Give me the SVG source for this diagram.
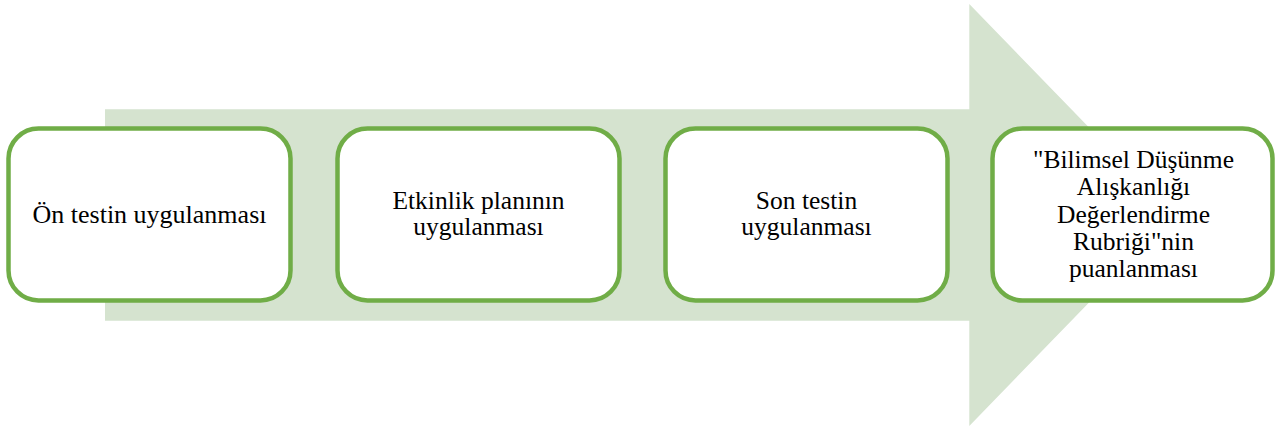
<svg xmlns="http://www.w3.org/2000/svg" width="1276" height="427" viewBox="0 0 1276 427">
<style>
.box{fill:#ffffff;stroke:#70AD47;stroke-width:4.5}
.t{font-family:"Liberation Serif","Times New Roman",serif;font-size:25.5px;fill:#000000;text-anchor:middle}
</style>
<rect width="1276" height="427" fill="#ffffff"/>
<g id="connectors">
<polygon points="105,109.3 969.3,109.3 969.3,4 1174,215 969.3,426 969.3,320.7 105,320.7" fill="#D5E3CF"/>
</g>
<g id="n1">
<rect class="box" x="8.5" y="128.5" width="282" height="172" rx="30"/>
<text class="t" x="149.5" y="223" style="font-size:26px">Ön testin uygulanması</text>
</g>
<g id="n2">
<rect class="box" x="337.5" y="128.5" width="282" height="172" rx="30"/>
<text class="t" x="478.5" y="209">Etkinlik planının</text>
<text class="t" x="478.5" y="235">uygulanması</text>
</g>
<g id="n3">
<rect class="box" x="665.5" y="128.5" width="282" height="172" rx="30"/>
<text class="t" x="806.5" y="208.5">Son testin</text>
<text class="t" x="806.5" y="234.5">uygulanması</text>
</g>
<g id="n4">
<rect class="box" x="992.5" y="128.5" width="280" height="172" rx="30"/>
<text class="t" x="1133.5" y="168">"Bilimsel Düşünme</text>
<text class="t" x="1133.5" y="195">Alışkanlığı</text>
<text class="t" x="1133.5" y="222.5">Değerlendirme</text>
<text class="t" x="1133.5" y="249.5">Rubriği"nin</text>
<text class="t" x="1133.5" y="276.5">puanlanması</text>
</g>
</svg>
